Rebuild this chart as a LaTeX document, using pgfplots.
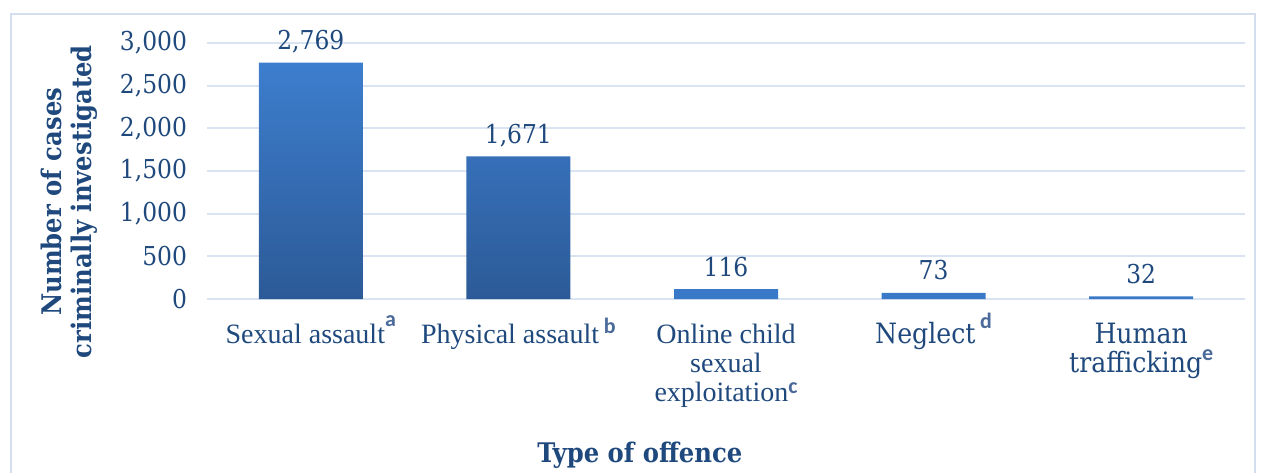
\documentclass[border=0pt]{standalone}
\usepackage{fontspec}
\usepackage{pgfplots}
\pgfplotsset{compat=1.18}
\setmainfont{Liberation Serif}
\newfontfamily\geo[FakeStretch=0.9]{DejaVu Serif}
\newfontfamily\tnr{Liberation Serif}
\newfontfamily\sups{Carlito}
\definecolor{txt}{HTML}{1F497D}
\definecolor{gridc}{HTML}{D9E3F1}
\definecolor{bordc}{HTML}{D3DFEF}
\definecolor{bartop}{HTML}{3D7ECE}
\definecolor{barbot}{HTML}{2C5A97}
\definecolor{barflat}{HTML}{3A79C8}
\definecolor{supc}{HTML}{4A6A9A}
\newcommand{\fnm}[2]{\raisebox{#1}[0pt][0pt]{\color{supc}\sups\bfseries\fontsize{11}{11}\selectfont #2}}
\newcommand{\st}{\rule{0pt}{10.5pt}}
\begin{document}
\begin{tikzpicture}
\path[use as bounding box] (-103.5pt,-86.5pt) rectangle (528.5pt,149.5pt);
\draw[bordc, line width=0.8pt] (-98pt,-95pt) -- (-98pt,142.5pt) -- (524pt,142.5pt) -- (524pt,-95pt);
\begin{axis}[
  at={(0pt,0pt)}, anchor=south west,
  scale only axis, width=519pt, height=128pt,
  xmin=-0.5, xmax=4.5, ymin=0, ymax=3000,
  axis line style={draw=none},
  major tick length=0pt,
  ytick={0,500,1000,1500,2000,2500,3000},
  yticklabels={0,500,{1,000},{1,500},{2,000},{2,500},{3,000}},
  ymajorgrids, grid style={gridc, line width=0.9pt},
  xtick={0,1,2,3,4},
  xticklabels={
    {\st\tnr Sexual assault\fnm{8.5pt}{a}},
    {\st\tnr Physical assault\,\fnm{5pt}{b}},
    {\st\tnr Online child\\\tnr sexual\\\tnr exploitation\fnm{4pt}{c}},
    {\st\geo Neglect\,\fnm{7.5pt}{d}},
    {\st\geo Human\\\geo trafficking\fnm{6pt}{e}}},
  xticklabel style={align=center, anchor=north, yshift=-8pt, text=txt, font=\fontsize{14}{14.6}\selectfont},
  yticklabel style={text=txt, font=\geo\fontsize{13}{13}\selectfont, xshift=-6.5pt},
  ylabel={Number of cases\\criminally investigated},
  ylabel style={at={(axis description cs:-0.133,0.38)}, anchor=center, align=center, text=txt, font=\geo\bfseries\fontsize{13.5}{15}\selectfont},
  xlabel={Type of offence},
  xlabel style={at={(axis description cs:0.417,-0.61)}, anchor=center, text=txt, font=\geo\bfseries\fontsize{13.5}{15}\selectfont},
  ybar, bar width=52pt, bar shift=0pt,
  nodes near coords, point meta=explicit symbolic,
  every node near coord/.append style={text=txt, font=\geo\fontsize{13}{13}\selectfont, text depth=0pt, yshift=3pt},
]
\addplot[draw=none, top color=bartop, bottom color=barbot] coordinates {
  (0,2769) [2,769]
  (1,1671) [1,671]
};
\addplot[draw=none, fill=barflat] coordinates {
  (2,116) [116]
  (3,73) [73]
  (4,32) [32]
};
\end{axis}
\end{tikzpicture}
\end{document}
